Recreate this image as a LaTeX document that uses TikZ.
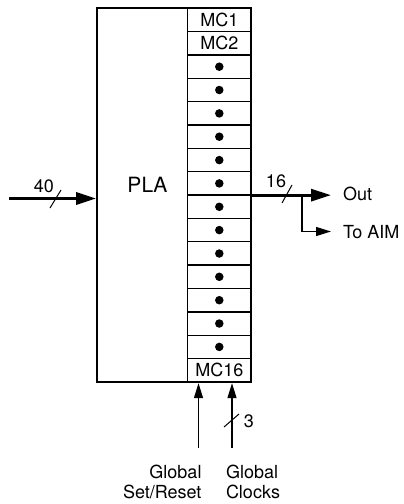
\documentclass[tikz,border=0pt]{standalone}
\usepackage{fontspec}
\setmainfont{TeX Gyre Heros}
\usetikzlibrary{arrows.meta}
\tikzset{
    EMPTY/.style={inner sep=0mm, outer sep=0mm, font={\fontsize{18}{20}\selectfont}},
    CELL/.style={draw=black, line width=1.3pt, shape=rectangle, inner sep=0mm,
        minimum width=64pt, minimum height=23.35pt, font={\fontsize{18}{20}\selectfont}},
    BLACK_DOT/.style={minimum size=8.5pt, inner sep=0mm, fill=black, shape=circle},
    PLA_BOX/.style={draw=black, line width=2.3pt, shape=rectangle, inner sep=0mm,
        minimum width=154pt, minimum height=373.7pt},
    BUS_EDGE/.style={draw=black, line width=3pt, -{Triangle[length=20pt,width=12pt]}},
    WIRE_EDGE/.style={draw=black, line width=1.3pt, -{Triangle[length=15pt,width=9pt]}},
    SLASH/.style={draw=black, line width=1pt}
}
\pgfdeclarelayer{edgelayer}
\pgfdeclarelayer{nodelayer}
\pgfsetlayers{edgelayer,main,nodelayer}

\begin{document}
\begin{tikzpicture}[x=1pt, y=-1pt]
    \useasboundingbox (0,0) rectangle (404,504);
    \begin{pgfonlayer}{nodelayer}
        \node [CELL] (1) at (219.3, 20.0) {MC1};
        \node [CELL] (2) at (219.3, 43.3) {MC2};
        \node [CELL] (3) at (219.3, 66.7) {};
        \node [CELL] (4) at (219.3, 90.0) {};
        \node [CELL] (5) at (219.3, 113.4) {};
        \node [CELL] (6) at (219.3, 136.7) {};
        \node [CELL] (7) at (219.3, 160.1) {};
        \node [CELL] (8) at (219.3, 183.4) {};
        \node [CELL] (9) at (219.3, 206.8) {};
        \node [CELL] (10) at (219.3, 230.1) {};
        \node [CELL] (11) at (219.3, 253.5) {};
        \node [CELL] (12) at (219.3, 276.8) {};
        \node [CELL] (13) at (219.3, 300.2) {};
        \node [CELL] (14) at (219.3, 323.5) {};
        \node [CELL] (15) at (219.3, 346.9) {};
        \node [CELL] (16) at (219.3, 370.2) {MC16};
        \node [BLACK_DOT] at (3) {};
        \node [BLACK_DOT] at (4) {};
        \node [BLACK_DOT] at (5) {};
        \node [BLACK_DOT] at (6) {};
        \node [BLACK_DOT] at (7) {};
        \node [BLACK_DOT] at (8) {};
        \node [BLACK_DOT] at (9) {};
        \node [BLACK_DOT] at (10) {};
        \node [BLACK_DOT] at (11) {};
        \node [BLACK_DOT] at (12) {};
        \node [BLACK_DOT] at (13) {};
        \node [BLACK_DOT] at (14) {};
        \node [BLACK_DOT] at (15) {};
        \node [PLA_BOX] (17) at (174.3, 195.15) {};
        \node [EMPTY, font={\fontsize{21}{24}\selectfont}] (18) at (147.5, 184.5) {PLA};
        \node [EMPTY] (19) at (44, 186.5) {40};
        \node [EMPTY] (20) at (276, 181.5) {16};
        \node [EMPTY, anchor=west] (21) at (343, 194) {Out};
        \node [EMPTY, anchor=west] (22) at (343, 232) {To AIM};
        \node [EMPTY] (23) at (249, 421.5) {3};
        \node [EMPTY, align=right, anchor=north east] (24) at (201.5, 465) {Global\\Set/Reset};
        \node [EMPTY, align=left, anchor=north west] (25) at (226, 465) {Global\\Clocks};
    \end{pgfonlayer}
    \begin{pgfonlayer}{edgelayer}
        \coordinate (26) at (9, 198.5);
        \coordinate (27) at (331, 195.15);
        \coordinate (28) at (302, 195.15);
        \coordinate (29) at (331, 231.5);
        \coordinate (30) at (198.5, 448);
        \coordinate (31) at (232, 448);
        \coordinate (32) at (50, 208);
        \coordinate (33) at (61, 190);
        \coordinate (34) at (282, 203);
        \coordinate (35) at (292, 185);
        \coordinate (36) at (224, 427);
        \coordinate (37) at (239, 414);
        \draw[BUS_EDGE] (26) to (26 -| 17.west);
        \draw[BUS_EDGE] (17.east) to (27);
        \draw[WIRE_EDGE] (28) |- (29);
        \draw[WIRE_EDGE] (30) to (30 |- 17.south);
        \draw[WIRE_EDGE] (31) to (31 |- 17.south);
        \draw[SLASH] (32) to (33);
        \draw[SLASH] (34) to (35);
        \draw[SLASH] (36) to (37);
    \end{pgfonlayer}
\end{tikzpicture}
\end{document}
